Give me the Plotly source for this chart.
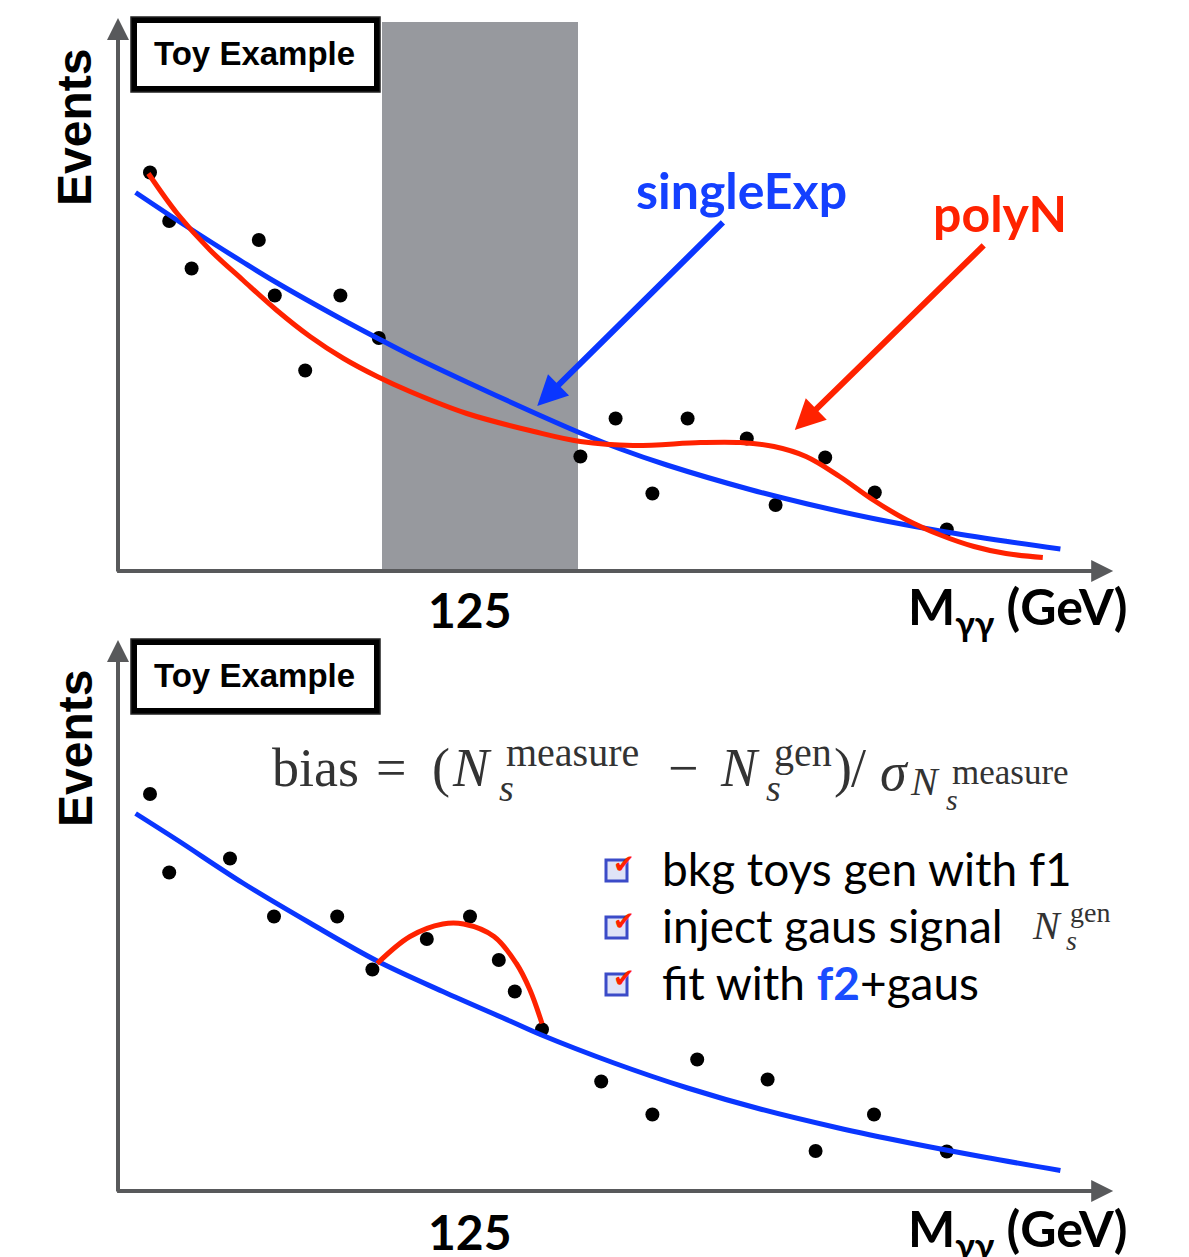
import plotly.graph_objects as go

W, H = 1189, 1257

# ---------------- data ----------------
# panel 1: toy data points
p1_mass = [105.0, 106.2, 107.6, 111.8, 112.8, 114.7, 116.9, 119.3, 131.9,
           134.1, 136.4, 138.6, 142.3, 144.1, 147.2, 150.3, 154.8]
p1_events = [79.7, 70.0, 60.5, 66.2, 55.1, 40.1, 55.1, 46.6, 22.9,
             30.5, 15.5, 30.5, 26.5, 13.2, 22.7, 15.7, 8.3]

# panel 1: singleExp fit (blue)
p1_exp_mass = [104.1, 107.3, 110.8, 112.9, 116.9, 119.25, 121.25, 124.8, 128.9,
               131.9, 134.4, 137.3, 142.5, 146.1, 150.2, 154.4, 158.6, 161.9]
p1_exp_events = [75.7, 68.9, 61.8, 57.7, 50.5, 46.5, 43.2, 37.8, 31.8,
                 27.6, 24.4, 21.2, 16.3, 13.4, 10.5, 8.0, 5.9, 4.4]

# panel 1: polyN fit (red)
p1_poly_mass = [104.9, 106.7, 108.75, 110.8, 112.9, 115.0, 117.1, 119.2, 121.25,
                124.8, 129.0, 131.9, 135.2, 139.4, 141.9, 144.0, 146.0, 148.1,
                150.2, 152.3, 154.4, 156.5, 158.5, 160.8]
p1_poly_events = [79.5, 71.5, 64.2, 58.2, 52.2, 46.9, 42.5, 38.9, 35.9,
                  31.5, 27.9, 25.9, 25.1, 25.7, 25.7, 24.9, 22.9, 18.9,
                  14.2, 10.2, 7.2, 4.9, 3.5, 2.7]

# signal window (grey band)
window_mass = [119.5, 131.75]

# panel 2: toy data points
p2_mass = [105.0, 106.2, 110.0, 112.75, 116.7, 118.9, 122.3, 125.0, 126.8,
           127.8, 129.5, 133.2, 136.4, 139.2, 143.6, 146.6, 150.25, 154.8]
p2_events = [79.4, 63.7, 66.5, 54.9, 54.9, 44.3, 50.4, 54.9, 46.2,
             39.9, 32.3, 21.9, 15.3, 26.3, 22.3, 8.0, 15.3, 7.9]

# panel 2: background fit (blue)
p2_bkg_mass = [104.1, 106.7, 110.8, 115.0, 119.2, 123.3, 127.5, 129.4,
               134.0, 138.6, 143.25, 147.9, 152.5, 157.1, 161.9]
p2_bkg_events = [75.5, 70.2, 61.6, 53.6, 46.0, 39.9, 34.0, 31.3,
                 25.6, 20.6, 16.3, 12.7, 9.6, 6.8, 4.1]

# panel 2: injected gaussian signal on top (red)
p2_sig_mass = [119.2, 121.25, 123.3, 124.6, 126.5, 127.9, 128.75, 129.5]
p2_sig_events = [45.5, 50.9, 53.4, 53.4, 50.9, 45.5, 40.2, 33.5]

tick_label = "125"
x_title = "M<sub>γγ</sub> (GeV)"
y_title = "Events"
box_title = "Toy Example"

# ---------------- layout geometry (page pixels; figure sits at page offset OFF) ----------------
OFF = 8
X0_PX, M0, PX_PER_GEV = 118, 103.0, 16.0
PX_PER_EVT = 5.0
SPLIT = 628
BASE1, BASE2 = 571, 1191

xrange_ = [M0 + (OFF - X0_PX) / PX_PER_GEV, M0 + (OFF + W - X0_PX) / PX_PER_GEV]
y1range = [(BASE1 - SPLIT) / PX_PER_EVT, (BASE1 - OFF) / PX_PER_EVT]
y2range = [(BASE2 - (H + OFF)) / PX_PER_EVT, (BASE2 - SPLIT) / PX_PER_EVT]
split_frac = 1 - (SPLIT - OFF) / H


def PX(x):
    return (x - OFF) / W


def PY(y):
    return 1 - (y - OFF) / H


BLUE = "#0a36ff"
RED = "#ff2200"
AXC = "#58595b"

fig = go.Figure()

# panel 1 traces
fig.add_trace(go.Scatter(x=p1_mass, y=p1_events, mode="markers",
                         marker=dict(color="black", size=14), xaxis="x", yaxis="y"))
fig.add_trace(go.Scatter(x=p1_exp_mass, y=p1_exp_events, mode="lines",
                         line=dict(color=BLUE, width=5, shape="spline", smoothing=1.0),
                         xaxis="x", yaxis="y"))
fig.add_trace(go.Scatter(x=p1_poly_mass, y=p1_poly_events, mode="lines",
                         line=dict(color=RED, width=5, shape="spline"), xaxis="x", yaxis="y"))

# panel 2 traces
fig.add_trace(go.Scatter(x=p2_mass, y=p2_events, mode="markers",
                         marker=dict(color="black", size=14), xaxis="x2", yaxis="y2"))
fig.add_trace(go.Scatter(x=p2_bkg_mass, y=p2_bkg_events, mode="lines",
                         line=dict(color=BLUE, width=5, shape="spline", smoothing=1.0),
                         xaxis="x2", yaxis="y2"))
fig.add_trace(go.Scatter(x=p2_sig_mass, y=p2_sig_events, mode="lines",
                         line=dict(color=RED, width=5, shape="spline"), xaxis="x2", yaxis="y2"))

shapes = []
# grey signal window
shapes.append(dict(type="rect", xref="x", yref="y", x0=window_mass[0], x1=window_mass[1],
                   y0=0, y1=109.8, fillcolor="#97999e", line=dict(width=0), layer="below"))

# Toy Example boxes (brush-like frame)
for off in (0, 622):
    shapes.append(dict(type="rect", xref="paper", yref="paper",
                       x0=PX(134), x1=PX(377), y0=PY(20 + off), y1=PY(89 + off),
                       line=dict(color="black", width=6), fillcolor="white"))
    shapes.append(dict(type="rect", xref="paper", yref="paper",
                       x0=PX(131), x1=PX(380), y0=PY(17 + off), y1=PY(92 + off),
                       line=dict(color="#222", width=1.5)))

# checkboxes
for yy in (868, 925, 982):
    shapes.append(dict(type="rect", xref="paper", yref="paper",
                       x0=PX(606), x1=PX(627), y0=PY(yy - 8), y1=PY(yy + 13),
                       line=dict(color="#3b4bc8", width=3), fillcolor="#dfe3f7"))

annotations = []


def axis_arrow(xr, yr, x, y, ax, ay):
    annotations.append(dict(xref=xr, yref=yr, axref=xr, ayref=yr, x=x, y=y, ax=ax, ay=ay,
                            text="", showarrow=True, arrowhead=2, arrowsize=1.1,
                            arrowwidth=4, arrowcolor=AXC, standoff=0))


axis_arrow("x", "y", 165.2, 0, 102.85, 0)
axis_arrow("x", "y", 103.0, 110.6, 103.0, -0.4)
axis_arrow("x2", "y2", 165.2, 0, 102.85, 0)
axis_arrow("x2", "y2", 103.0, 110.2, 103.0, -0.4)

# hand drawn pointer arrows
annotations.append(dict(xref="x", yref="y", axref="x", ayref="y", x=129.2, y=33.0,
                        ax=140.9, ay=70.0, text="", showarrow=True, arrowhead=2,
                        arrowsize=1.0, arrowwidth=6, arrowcolor=BLUE, standoff=0))
annotations.append(dict(xref="x", yref="y", axref="x", ayref="y", x=145.3, y=28.2,
                        ax=157.2, ay=65.4, text="", showarrow=True, arrowhead=2,
                        arrowsize=1.0, arrowwidth=6, arrowcolor=RED, standoff=0))


def txt(x, y, text, size, family="Lato", color="black", xanchor="center",
        yanchor="middle", angle=0):
    annotations.append(dict(xref="paper", yref="paper", x=PX(x), y=PY(y), text=text,
                            showarrow=False, xanchor=xanchor, yanchor=yanchor,
                            textangle=angle,
                            font=dict(family=family, size=size, color=color)))


for off in (0, 621):
    txt(75, 128 + off, "<b>%s</b>" % y_title, 48, family="Liberation Sans", angle=-90)
    txt(254, 54 + off, "<b>%s</b>" % box_title, 33, family="Liberation Sans")
    txt(470, 610 + off, "<b>%s</b>" % tick_label, 48)
    txt(906, 610 + off, "<b>%s</b>" % x_title, 50, xanchor="left")

txt(741, 190, "<b>singleExp</b>", 50, color="#1440ff")
txt(1000, 213, "<b>polyN</b>", 50, color=RED)

# bias formula
SER = "Liberation Serif"
FC = "#333333"
txt(270, 768, "bias", 54, SER, FC, "left")
txt(374, 768, "=", 54, SER, FC, "left")
txt(430, 768, "(", 54, SER, FC, "left")
txt(450, 768, "<i>N</i>", 54, SER, FC, "left")
txt(504, 752, "measure", 40, SER, FC, "left")
txt(497, 788, "<i>s</i>", 38, SER, FC, "left")
txt(666, 768, "−", 54, SER, FC, "left")
txt(718, 768, "<i>N</i>", 54, SER, FC, "left")
txt(772, 752, "gen", 40, SER, FC, "left")
txt(764, 788, "<i>s</i>", 38, SER, FC, "left")
txt(832, 768, ")", 54, SER, FC, "left")
txt(849, 768, "/", 54, SER, FC, "left")
txt(878, 772, "<i>σ</i>", 54, SER, FC, "left")
txt(908, 781, "<i>N</i>", 40, SER, FC, "left")
txt(950, 772, "measure", 35, SER, FC, "left")
txt(944, 799, "<i>s</i>", 30, SER, FC, "left")

# bullet list
txt(660, 868, "bkg toys gen with f1", 46, xanchor="left")
txt(660, 925, "inject gaus signal", 46, xanchor="left")
txt(1030, 926, "<i>N</i>", 40, SER, FC, "left")
txt(1068, 912, "gen", 28, SER, FC, "left")
txt(1064, 940, "<i>s</i>", 28, SER, FC, "left")
txt(660, 982, "fit with <b><span style='color:#1a4dff'>f2</span></b>+gaus", 46, xanchor="left")
for yy in (868, 925, 982):
    txt(624, yy - 4, "✔", 26, "DejaVu Sans", RED)

ax_common = dict(visible=False, range=xrange_, domain=[0, 1], fixedrange=True)
fig.update_layout(
    width=W, height=H, margin=dict(l=0, r=0, t=0, b=0),
    paper_bgcolor="white", plot_bgcolor="white", showlegend=False,
    xaxis=dict(**ax_common, anchor="y"),
    yaxis=dict(visible=False, range=y1range, domain=[split_frac, 1], anchor="x"),
    xaxis2=dict(**ax_common, anchor="y2"),
    yaxis2=dict(visible=False, range=y2range, domain=[0, split_frac], anchor="x2"),
    shapes=shapes, annotations=annotations,
)

fig.write_html("out.html")
